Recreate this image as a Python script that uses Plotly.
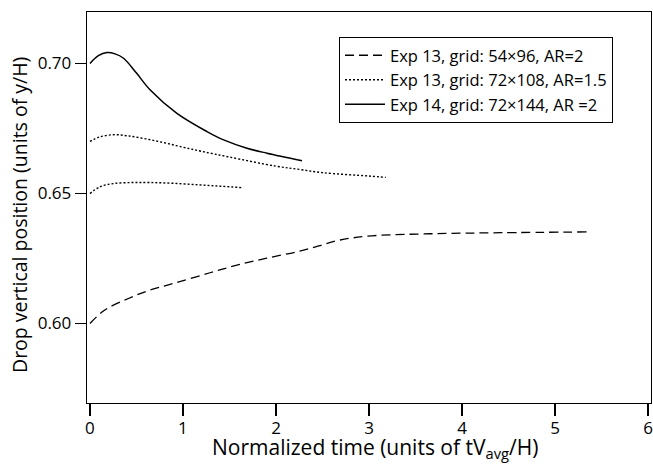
import plotly.graph_objects as go

# Exp 13, grid 54x96, AR=2 (dashed)
t_a = [0, 0.16, 0.42, 0.65, 0.91, 1.29, 1.59, 1.90, 2.23, 2.46, 2.69, 3.03, 3.67, 4.42, 5.34]
y_a = [0.600, 0.6052, 0.6097, 0.6129, 0.6155, 0.6195, 0.6225, 0.6251, 0.6276, 0.6298, 0.6321,
       0.6337, 0.6345, 0.6349, 0.6352]

# Exp 13, grid 72x108, AR=1.5 (dotted, upper run)
t_b1 = [0, 0.1, 0.25, 0.4, 0.6, 0.8, 1.0, 1.2, 1.5, 2.0, 2.26, 2.5, 3.0, 3.18]
y_b1 = [0.670, 0.6717, 0.6726, 0.6722, 0.6710, 0.6695, 0.6678, 0.6662, 0.6640, 0.6605, 0.6592,
        0.6580, 0.6567, 0.6562]

# Exp 13, grid 72x108, AR=1.5 (dotted, lower run)
t_b2 = [0, 0.11, 0.25, 0.45, 0.65, 0.9, 1.17, 1.4, 1.65]
y_b2 = [0.6500, 0.6526, 0.6538, 0.6542, 0.6542, 0.6539, 0.6533, 0.6528, 0.6522]

# Exp 14, grid 72x144, AR=2 (solid)
t_c = [0, 0.09, 0.183, 0.27, 0.361, 0.5, 0.648, 0.935, 1.258, 1.437, 1.688, 1.903, 2.28]
y_c = [0.700, 0.7030, 0.7042, 0.7037, 0.7020, 0.6963, 0.6898, 0.6808, 0.6738, 0.6706, 0.6674,
       0.6655, 0.6626]

names = ["Exp 13, grid: 54×96, AR=2", "Exp 13, grid: 72×108, AR=1.5", "Exp 14, grid: 72×144, AR =2"]
x_ticks = [0, 1, 2, 3, 4, 5, 6]
y_ticks = [0.60, 0.65, 0.70]
y_tick_text = ["0.60", "0.65", "0.70"]
x_title = "Normalized time (units of tV<sub>avg</sub>/H)"
y_title = "Drop vertical position (units of y/H)"

FONT = "Open Sans"
W, H = 653, 464
L, R, T, B = 87, 2, 12, 61
PW, PH = W - L - R, H - T - B

fig = go.Figure()
fig.add_trace(go.Scatter(x=t_a, y=y_a, mode="lines", name=names[0], line_shape="spline",
                         line=dict(color="black", width=1.3, dash="9px,5px")))
fig.add_trace(go.Scatter(x=t_b1, y=y_b1, mode="lines", name=names[1], legendgroup="b",
                         line_shape="spline",
                         line=dict(color="black", width=1.4, dash="2px,2px")))
fig.add_trace(go.Scatter(x=t_b2, y=y_b2, mode="lines", name=names[1], legendgroup="b",
                         showlegend=False, line_shape="spline",
                         line=dict(color="black", width=1.4, dash="2px,2px")))
fig.add_trace(go.Scatter(x=t_c, y=y_c, mode="lines", name=names[2], line_shape="spline",
                         line=dict(color="black", width=1.5)))

fig.update_layout(
    width=W, height=H,
    margin=dict(l=L, r=R, t=T, b=B, autoexpand=False),
    paper_bgcolor="white", plot_bgcolor="white",
    font=dict(family=FONT, size=17, color="black"),
    showlegend=True,
    legend=dict(x=(339 - L) / PW, y=1 - (37 - T) / PH, xanchor="left", yanchor="top",
                bordercolor="black", borderwidth=1, bgcolor="white",
                font=dict(family=FONT, size=16.5, color="black"),
                tracegroupgap=0, itemwidth=40),
    xaxis=dict(range=[-0.032, 6.032], tickvals=x_ticks, ticks="outside", ticklen=12,
               tickwidth=1.3, tickcolor="black", showline=True, linecolor="black",
               linewidth=1.3, mirror=True, showgrid=False, zeroline=False,
               automargin=False, ticklabeloverflow="allow", ticklabelstandoff=-3,
               tickfont=dict(size=17)),
    yaxis=dict(range=[0.5694, 0.7198], tickvals=y_ticks, ticktext=y_tick_text,
               ticks="outside", ticklen=11, tickwidth=1.3, tickcolor="black",
               showline=True, linecolor="black", linewidth=1.3, mirror=True,
               showgrid=False, zeroline=False, automargin=False,
               ticklabeloverflow="allow", tickfont=dict(size=17)),
    annotations=[
        dict(text=x_title, xref="paper", yref="paper", x=(375 - L) / PW,
             y=(T + PH - 448) / PH, xanchor="center", yanchor="middle",
             showarrow=False, font=dict(size=21)),
        dict(text=y_title, xref="paper", yref="paper", x=(20 - L) / PW,
             y=(T + PH - 215) / PH, xanchor="center", yanchor="middle",
             textangle=-90, showarrow=False, font=dict(size=19.5)),
    ],
)

fig.write_html("out.html", config={"displayModeBar": False, "staticPlot": True})

# remove the default page margin so the figure sits at the window's top-left corner
with open("out.html", encoding="utf-8") as f:
    html = f.read()
html = html.replace("<head>", "<head><style>html,body{margin:0;padding:0;overflow:hidden;}</style>", 1)
with open("out.html", "w", encoding="utf-8") as f:
    f.write(html)
